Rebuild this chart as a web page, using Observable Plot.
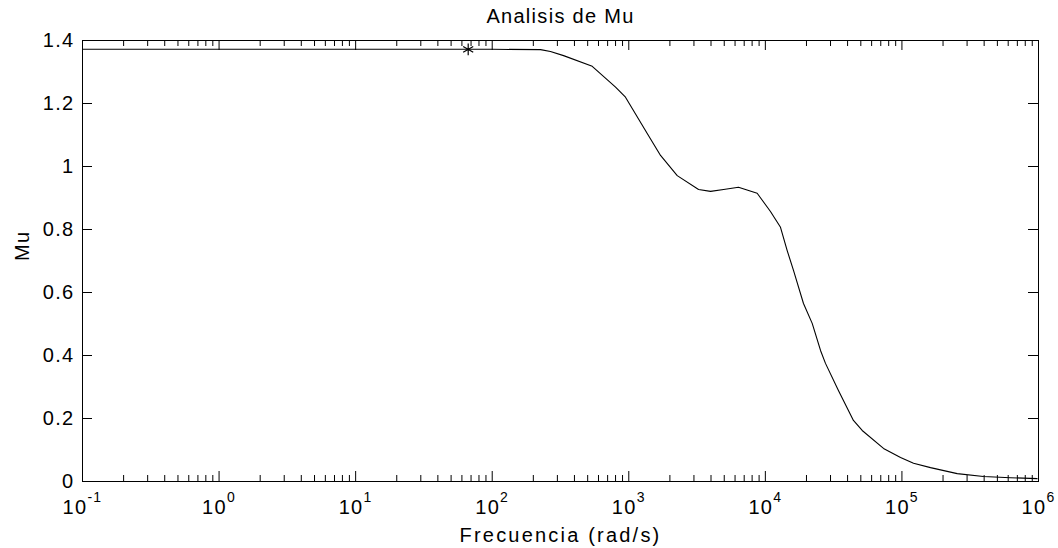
<!DOCTYPE html>
<html>
<head>
<meta charset="utf-8">
<script src="https://cdn.jsdelivr.net/npm/d3@7"></script>
<script src="https://cdn.jsdelivr.net/npm/@observablehq/plot@0.6"></script>
<style>
  html, body { margin: 0; padding: 0; background: #fff; }
  svg text { letter-spacing: 1.3px; }
</style>
</head>
<body>
<div id="chart"></div>
<script>
// Data
const title = "Analisis de Mu";
const xLabel = "Frecuencia (rad/s)";
const yLabel = "Mu";
const freq = [0.1, 1, 10, 100, 226, 267, 333, 540, 800, 946, 1365, 1708, 2263, 3243, 3970, 4943, 6358, 8710, 10900, 12910, 14450, 16070, 19020, 22030, 25350, 27560, 34280, 44150, 51170, 73300, 97700, 121600, 161900, 254000, 395500, 623000, 977000];
const mu   = [1.372, 1.372, 1.372, 1.372, 1.371, 1.365, 1.352, 1.318, 1.252, 1.220, 1.105, 1.035, 0.971, 0.927, 0.921, 0.927, 0.934, 0.915, 0.857, 0.807, 0.733, 0.670, 0.565, 0.502, 0.416, 0.375, 0.289, 0.194, 0.162, 0.105, 0.076, 0.058, 0.044, 0.025, 0.016, 0.012, 0.009];
const markerFreq = [66.7];
const markerMu = [1.372];
const xMajorTicks = [0.1, 1, 10, 100, 1000, 10000, 100000, 1000000];
const xMinorTicks = [];
for (const m of xMajorTicks.slice(0, -1)) for (let k = 2; k <= 9; k++) xMinorTicks.push(m * k);
const yTicks = [0, 0.2, 0.4, 0.6, 0.8, 1, 1.2, 1.4];

const curve = freq.map((f, i) => ({f, mu: mu[i]}));
const marker = markerFreq.map((f, i) => ({f, mu: markerMu[i]}));

const W = 1058, H = 548, mL = 82, mR = 20, mT = 40, mB = 67;
const innerW = W - mL - mR, innerH = H - mT - mB;

const chart = Plot.plot({
  width: W, height: H,
  marginLeft: mL, marginRight: mR, marginTop: mT, marginBottom: mB,
  style: {fontFamily: "'Liberation Sans', Arial, sans-serif", fontSize: "20px", background: "#fff", color: "#000"},
  x: {type: "log", domain: [0.1, 1e6], axis: null},
  y: {domain: [0, 1.4], axis: null},
  marks: [
    Plot.frame({stroke: "#000", strokeWidth: 1}),
    // major x ticks, bottom and top, inward
    Plot.tickX(xMajorTicks, {x: d => d, stroke: "#000", insetTop: innerH - 10}),
    Plot.tickX(xMajorTicks, {x: d => d, stroke: "#000", insetBottom: innerH - 10}),
    // minor x ticks
    Plot.tickX(xMinorTicks, {x: d => d, stroke: "#000", insetTop: innerH - 6}),
    Plot.tickX(xMinorTicks, {x: d => d, stroke: "#000", insetBottom: innerH - 6}),
    // y ticks, left and right, inward
    Plot.tickY(yTicks, {y: d => d, stroke: "#000", insetRight: innerW - 10}),
    Plot.tickY(yTicks, {y: d => d, stroke: "#000", insetLeft: innerW - 10}),
    // tick labels
    Plot.axisY({ticks: yTicks, tickSize: 0, tickPadding: 8, label: null, fontSize: 20,
      tickFormat: d => String(d)}),
    Plot.axisX({ticks: xMajorTicks, tickSize: 0, tickPadding: 18, label: null, fontSize: 20,
      tickFormat: d => "10^" + Math.round(Math.log10(d))}),
    // curve
    Plot.line(curve, {x: "f", y: "mu", stroke: "#000", strokeWidth: 1.1}),
    Plot.dot(marker, {x: "f", y: "mu", symbol: "asterisk", r: 5.5, stroke: "#000", strokeWidth: 1.2}),
    // labels
    Plot.text([title], {text: d => d, frameAnchor: "top", lineAnchor: "middle", dy: -24, fontSize: 20}),
    Plot.text([xLabel], {text: d => d, frameAnchor: "bottom", lineAnchor: "middle", dy: 54, fontSize: 20, className: "xlab"}),
    Plot.text([yLabel], {text: d => d, frameAnchor: "left", lineAnchor: "middle", rotate: -90, dx: -60, fontSize: 20})
  ]
});

// turn "10^k" labels into base + superscript
d3.select(chart).selectAll("text").each(function() {
  const t = d3.select(this);
  const s = t.text();
  if (!/^10\^/.test(s)) return;
  const [base, exp] = s.split("^");
  t.text(null);
  t.append("tspan").text(base);
  t.append("tspan").attr("dy", "-12").attr("font-size", "14").text(exp.replace("\u2212", "-"));
});
d3.select(chart).selectAll(".xlab text").style("letter-spacing", "2.2px");

document.getElementById("chart").appendChild(chart);
</script>
</body>
</html>
